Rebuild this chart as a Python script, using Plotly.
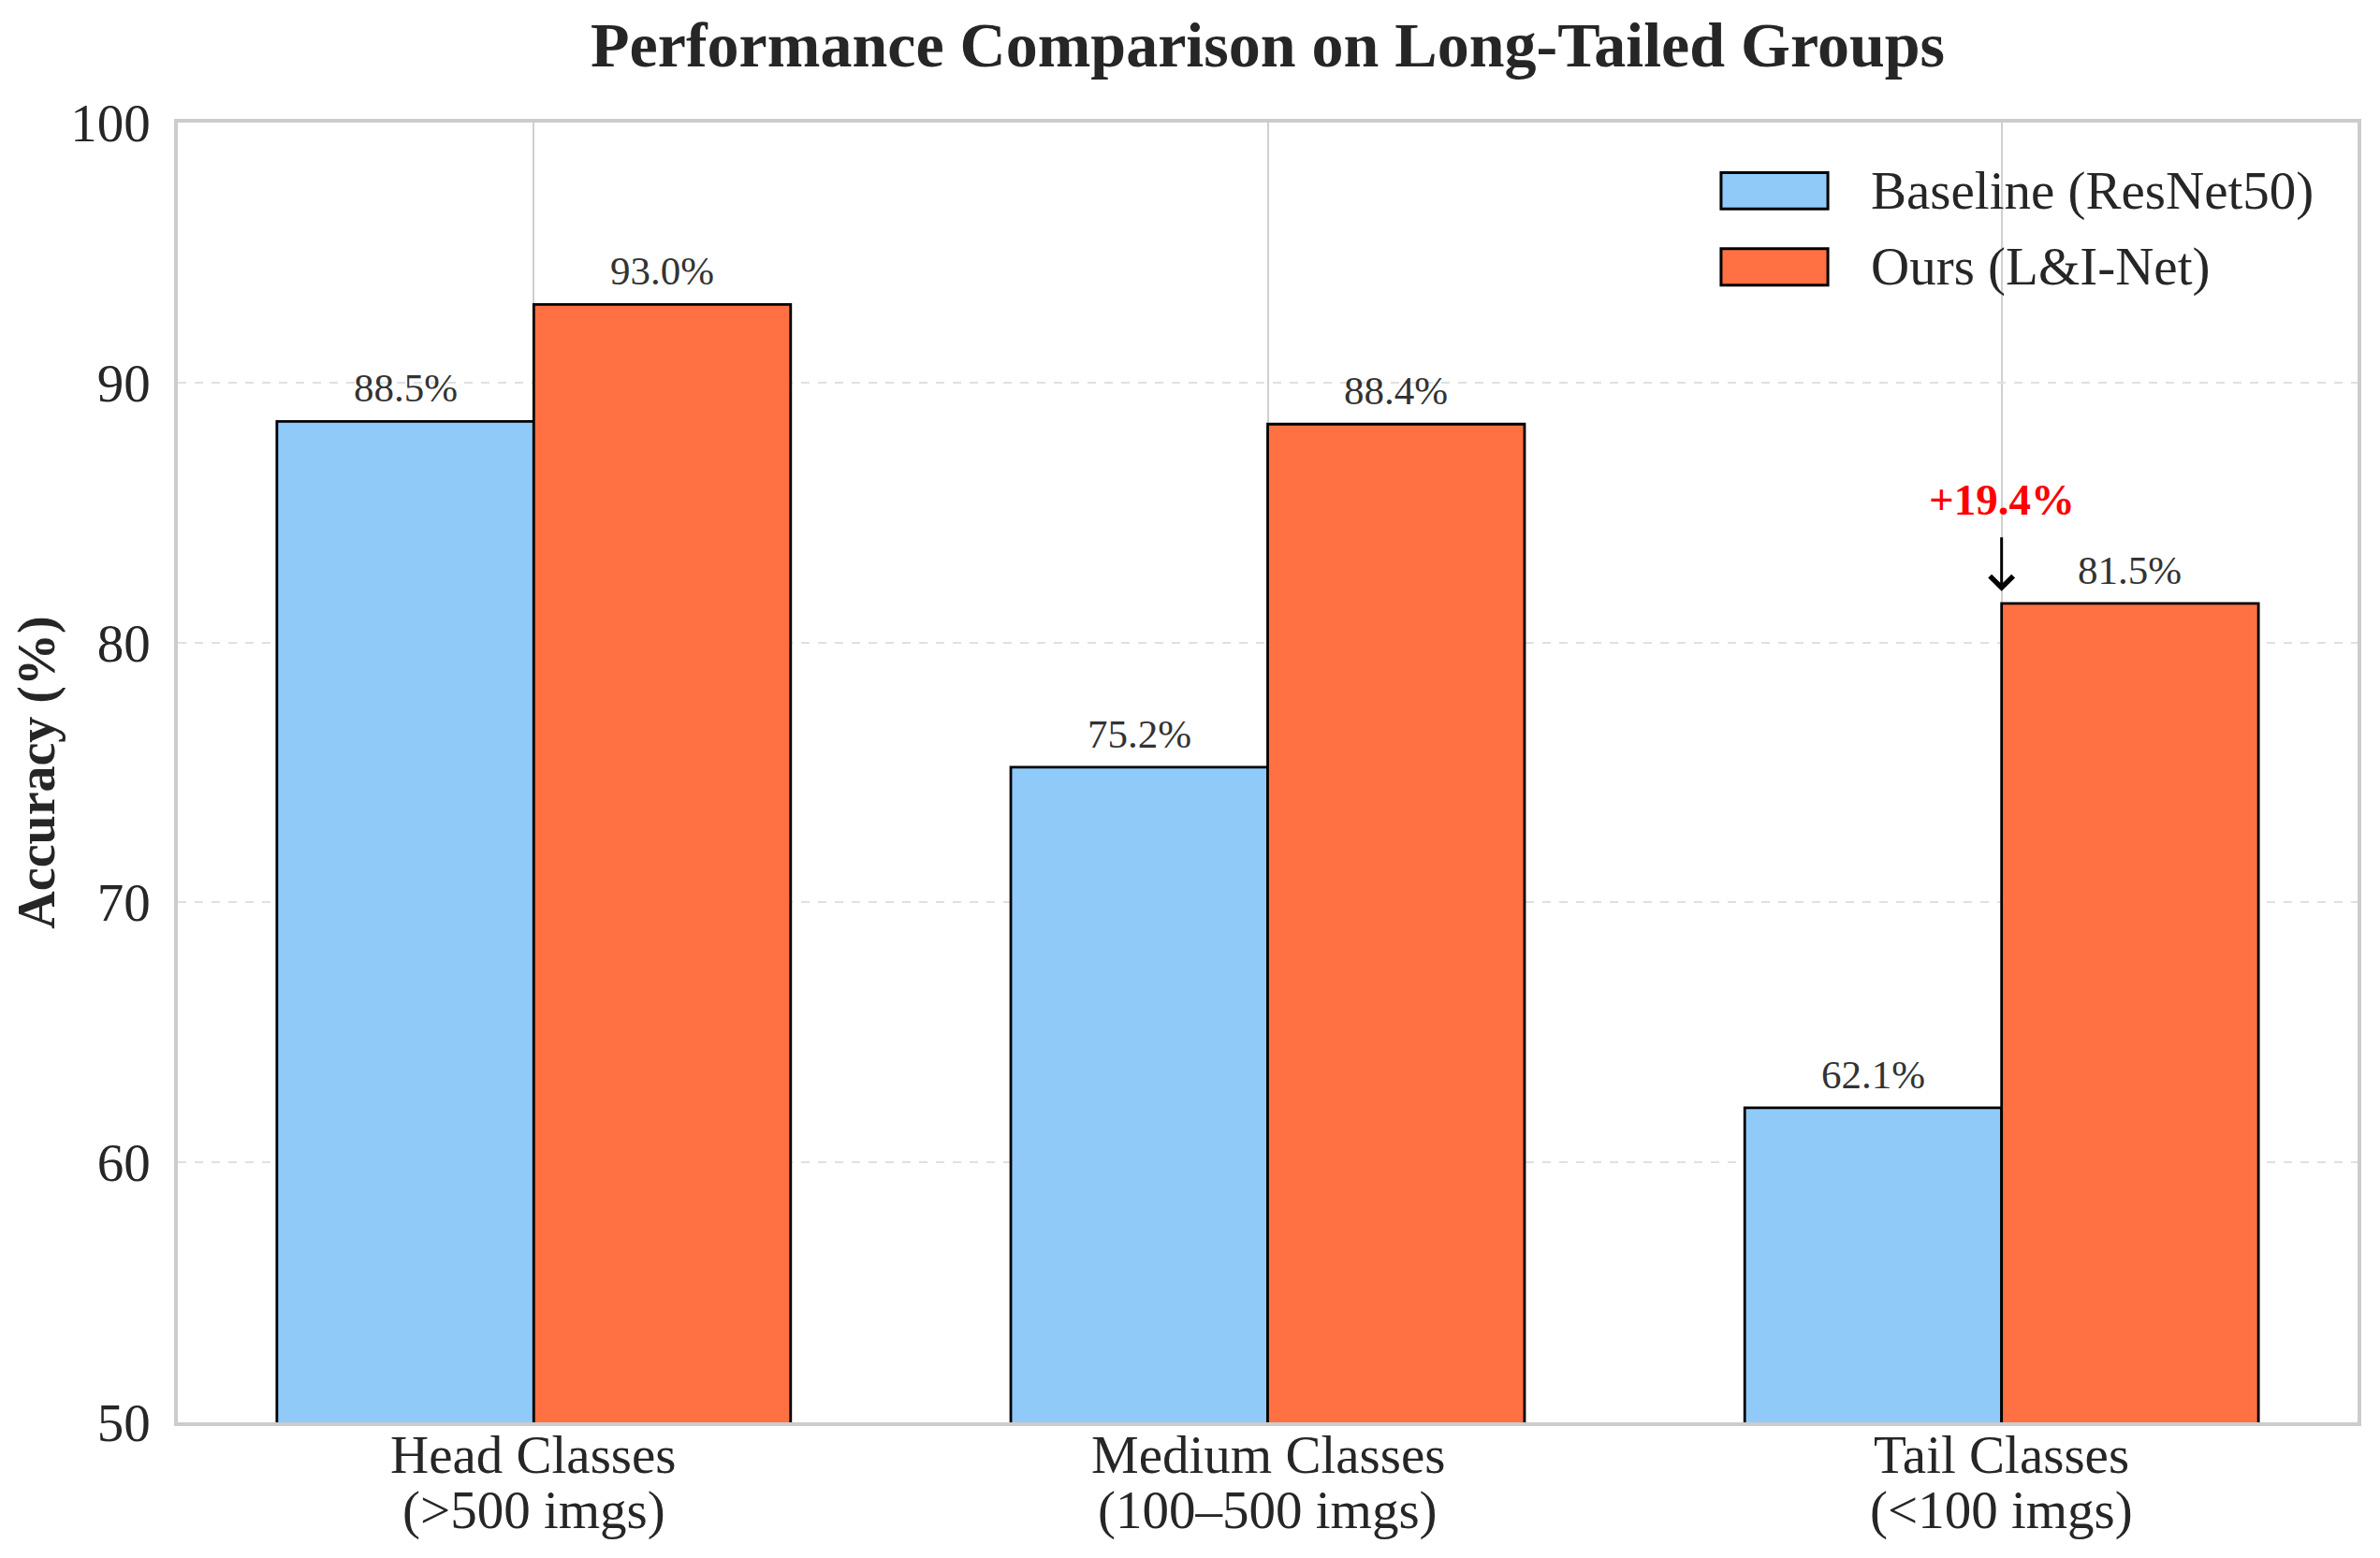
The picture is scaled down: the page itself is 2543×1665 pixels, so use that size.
import plotly.graph_objects as go

cat_names = ["Head Classes", "Medium Classes", "Tail Classes"]
cat_sub = ["(&gt;500 imgs)", "(100–500 imgs)", "(&lt;100 imgs)"]
series_names = ["Baseline (ResNet50)", "Ours (L&I-Net)"]
baseline_vals = [88.5, 75.2, 62.1]
ours_vals = [93.0, 88.4, 81.5]
y_ticks = [50, 60, 70, 80, 90, 100]
gain_text = "+19.4%"

colors = ["#90CAF9", "#FF7043"]
FONT = "Liberation Serif, Times New Roman, serif"
TXT = "#262626"
BAR_W = 0.35
xpos = list(range(len(cat_names)))

W, H = 2527, 1649  # page body has an 8px default margin

fig = go.Figure()
offsets = [-BAR_W, 0.0]
for name, vals, col, off in zip(series_names, [baseline_vals, ours_vals], colors, offsets):
    fig.add_trace(go.Bar(
        x=xpos, y=vals, name=name, width=BAR_W, offset=off,
        marker=dict(color=col, line=dict(color="black", width=2.8)),
        showlegend=False,
    ))
    # value labels
    for xi, v in zip(xpos, vals):
        fig.add_annotation(x=xi + off + BAR_W / 2, y=v, text=f"{v:.1f}%",
                           showarrow=False, xanchor="center", yanchor="bottom",
                           yshift=10, font=dict(family=FONT, size=43, color="#333333"))

fig.update_layout(
    width=W, height=H,
    barmode="overlay",
    plot_bgcolor="white", paper_bgcolor="white",
    margin=dict(l=182, r=14, t=123, b=137),
    font=dict(family=FONT, size=57, color=TXT),
    title=dict(text="<b>Performance Comparison on Long-Tailed Groups</b>",
               x=0.5, xref="paper", xanchor="center", y=1 - 39 / H, yanchor="middle",
               yref="container", font=dict(family=FONT, size=68, color=TXT)),
    xaxis=dict(tickvals=xpos, ticktext=cat_names, range=[-0.485, 2.485],
               showticklabels=False,
               showgrid=True, gridcolor="#d0d0d0", gridwidth=2,
               showline=True, linecolor="#cccccc", linewidth=3.5, mirror=True,
               ticks="", zeroline=False),
    yaxis=dict(range=[50, 100], tickvals=y_ticks,
               showgrid=True, gridcolor="#e0e0e0", gridwidth=2, griddash="dash",
               showline=True, linecolor="#cccccc", linewidth=3.5, mirror=True,
               ticks="", zeroline=False, tickfont=dict(size=57, color=TXT),
               ticklabelstandoff=14,
               title=dict(text="<b>Accuracy (%)</b>", standoff=8,
                          font=dict(family=FONT, size=56, color=TXT))),
)

# category labels (two lines each)
for xi, name, sub in zip(xpos, cat_names, cat_sub):
    fig.add_annotation(x=xi, xref="x", y=0, yref="paper", text=name, showarrow=False,
                       xanchor="center", yanchor="top", yshift=-1,
                       font=dict(family=FONT, size=57, color=TXT))
    fig.add_annotation(x=xi, xref="x", y=0, yref="paper", text=sub, showarrow=False,
                       xanchor="center", yanchor="top", yshift=-60,
                       font=dict(family=FONT, size=57, color=TXT))

# Legend (drawn as patches + text)
legend_y = [0.9475, 0.889]
for name, col, yc in zip(series_names, colors, legend_y):
    fig.add_shape(type="rect", xref="paper", yref="paper",
                  x0=0.708, x1=0.757, y0=yc - 0.014, y1=yc + 0.014,
                  fillcolor=col, line=dict(color="black", width=3))
    fig.add_annotation(xref="paper", yref="paper", x=0.776, y=yc,
                       text=name.replace("&", "&amp;"), showarrow=False,
                       xanchor="left", yanchor="middle",
                       font=dict(family=FONT, size=57, color=TXT))

# Gain annotation on tail classes
fig.add_annotation(x=xpos[2], y=85.5, text="<b>" + gain_text + "</b>", showarrow=False,
                   xanchor="center", yanchor="middle",
                   font=dict(family=FONT, size=47, color="#ff0000"))
fig.add_annotation(x=xpos[2], y=ours_vals[2] + 0.47, ax=xpos[2], ay=84.1,
                   axref="x", ayref="y", text="", showarrow=True,
                   arrowhead=4, arrowsize=1.6, arrowwidth=3, arrowcolor="black")

fig.write_html("out.html")
